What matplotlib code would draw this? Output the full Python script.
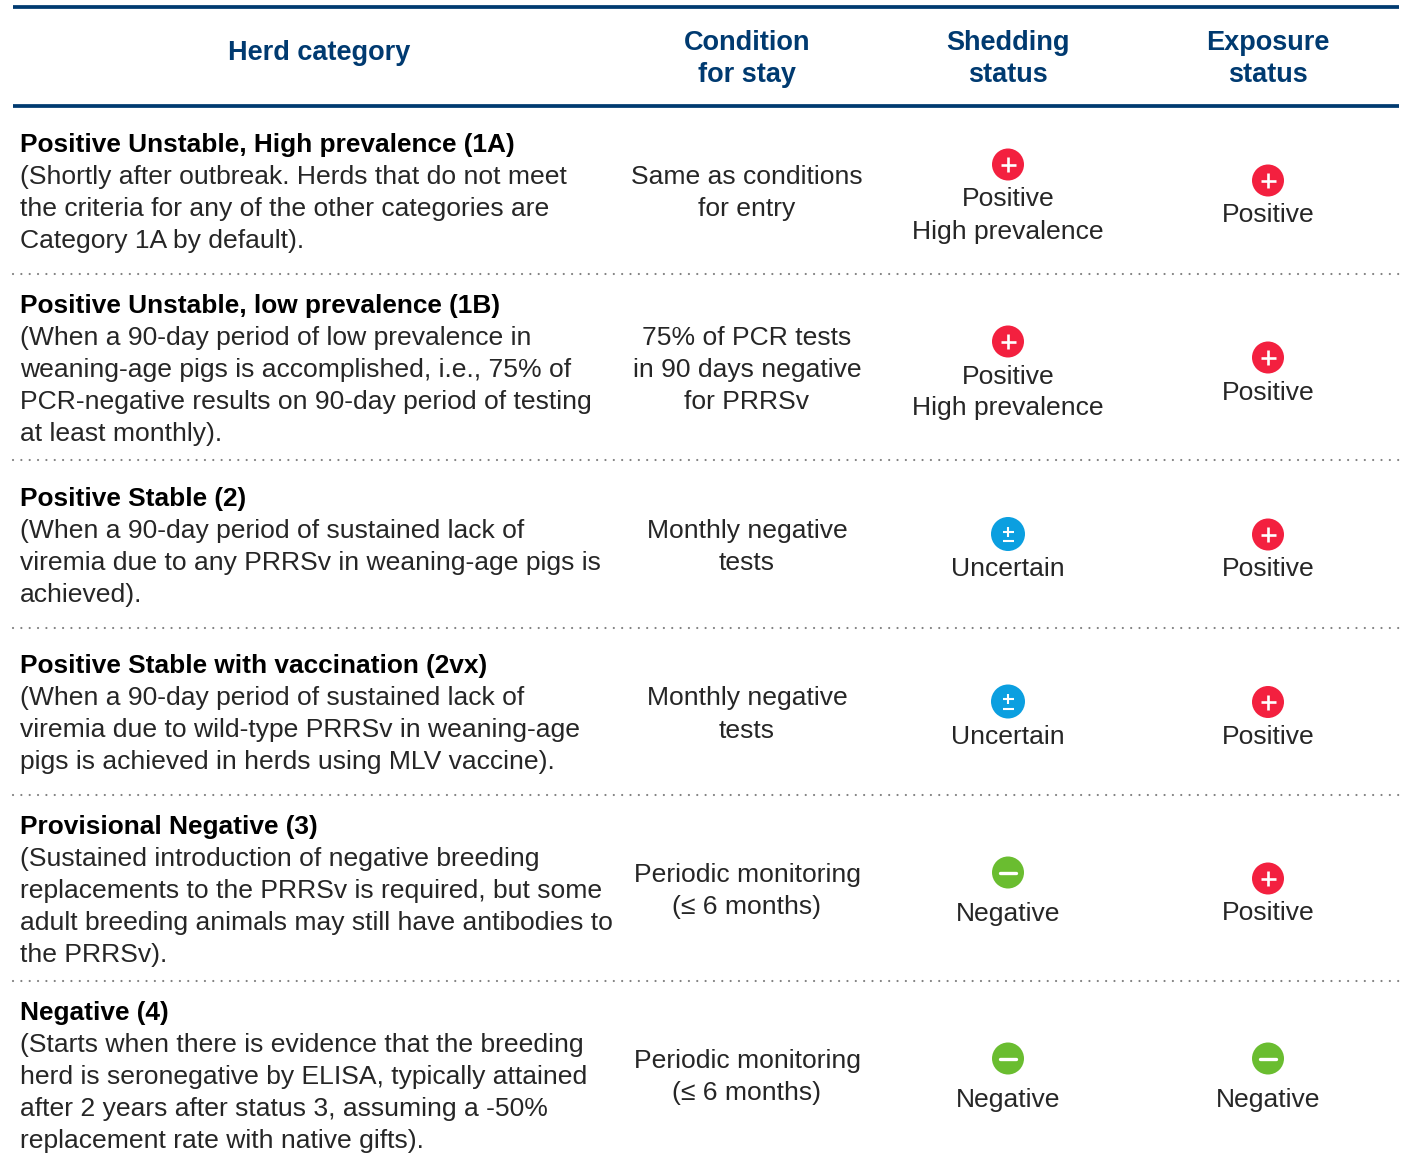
import matplotlib

matplotlib.use("Agg")
import matplotlib.pyplot as plt
from matplotlib.patches import Circle

plt.rcParams["font.family"] = ["Liberation Sans", "DejaVu Sans"]

HEADERS = ["Herd category", "Condition\nfor stay", "Shedding\nstatus", "Exposure\nstatus"]

CATEGORY_TITLES = [
    "Positive Unstable, High prevalence (1A)",
    "Positive Unstable, low prevalence (1B)",
    "Positive Stable (2)",
    "Positive Stable with vaccination (2vx)",
    "Provisional Negative (3)",
    "Negative (4)",
]
CATEGORY_NOTES = [
    "(Shortly after outbreak. Herds that do not meet\nthe criteria for any of the other categories are\nCategory 1A by default).",
    "(When a 90-day period of low prevalence in\nweaning-age pigs is accomplished, i.e., 75% of\nPCR-negative results on 90-day period of testing\nat least monthly).",
    "(When a 90-day period of sustained lack of\nviremia due to any PRRSv in weaning-age pigs is\nachieved).",
    "(When a 90-day period of sustained lack of\nviremia due to wild-type PRRSv in weaning-age\npigs is achieved in herds using MLV vaccine).",
    "(Sustained introduction of negative breeding\nreplacements to the PRRSv is required, but some\nadult breeding animals may still have antibodies to\nthe PRRSv).",
    "(Starts when there is evidence that the breeding\nherd is seronegative by ELISA, typically attained\nafter 2 years after status 3, assuming a -50%\nreplacement rate with native gifts).",
]
CONDITIONS = [
    "Same as conditions\nfor entry",
    "75% of PCR tests\nin 90 days negative\nfor PRRSv",
    "Monthly negative\ntests",
    "Monthly negative\ntests",
    "Periodic monitoring\n(≤ 6 months)",
    "Periodic monitoring\n(≤ 6 months)",
]
SHEDDING = [
    "Positive\nHigh prevalence",
    "Positive\nHigh prevalence",
    "Uncertain",
    "Uncertain",
    "Negative",
    "Negative",
]
EXPOSURE = ["Positive", "Positive", "Positive", "Positive", "Positive", "Negative"]

ROW_EDGES = [106, 274, 460, 628, 795, 981, 1167]

NAVY = "#003a70"
INK = "#262626"
ICON_COLORS = {"Positive": "#f3203f", "Uncertain": "#0b9fe0", "Negative": "#6abd30"}
ICON_GAP = {"Positive": 32, "Uncertain": 32.5, "Negative": 38}

HEAD_SIZE = 19.5
TITLE_SIZE = 18.9
BODY_SIZE = 19.05
LINE = 32
BASE = 10
COL_X = [319, 747, 1008, 1268]


def draw_lines(ax, x, first_y, text, size=BODY_SIZE, **kwargs):
    for i, part in enumerate(text.split("\n")):
        ax.text(x, first_y + i * LINE + BASE, part, va="baseline", fontsize=size, **kwargs)


def draw_icon(ax, x, y, state):
    radius = 17 if state == "Uncertain" else 16
    ax.add_patch(Circle((x, y), radius, color=ICON_COLORS[state], lw=0, zorder=3))
    if state == "Positive":
        ax.plot([x - 7.5, x + 7.5], [y, y], color="white", lw=1.9, solid_capstyle="butt", zorder=4)
        ax.plot([x, x], [y - 7.5, y + 7.5], color="white", lw=1.9, solid_capstyle="butt", zorder=4)
    elif state == "Negative":
        ax.plot([x - 8, x + 8], [y, y], color="white", lw=2.4, solid_capstyle="round", zorder=4)
    else:
        ax.plot([x - 5.5, x + 5.5], [y - 2.5, y - 2.5], color="white", lw=1.5, solid_capstyle="butt", zorder=4)
        ax.plot([x, x], [y - 7.5, y + 2.5], color="white", lw=1.5, solid_capstyle="butt", zorder=4)
        ax.plot([x - 5.5, x + 5.5], [y + 7, y + 7], color="white", lw=1.5, solid_capstyle="butt", zorder=4)


def draw_status(ax, x, center, text):
    lines = text.split("\n")
    # text sits a bit below the row centre, icon goes on top of it
    text_y = center + 6 + 33 / 2 - (len(lines) - 1) * LINE / 2
    draw_icon(ax, x, text_y - ICON_GAP[lines[0]], lines[0])
    draw_lines(ax, x, text_y, text, ha="center", color=INK)


fig = plt.figure(figsize=(14.04, 11.62), dpi=100)
ax = fig.add_axes([0, 0, 1, 1])
ax.set_xlim(0, 1404)
ax.set_ylim(1162, 0)
ax.axis("off")

for y in [6.5, 106]:
    ax.plot([13, 1399], [y, y], color=NAVY, lw=2.7, solid_capstyle="butt")

draw_lines(ax, COL_X[0], 50, HEADERS[0], size=HEAD_SIZE, ha="center", color=NAVY, fontweight="bold")
for x, header in zip(COL_X[1:], HEADERS[1:]):
    draw_lines(ax, x, 40.5, header, size=HEAD_SIZE, ha="center", color=NAVY, fontweight="bold")

for y in ROW_EDGES[1:-1]:
    ax.plot([13, 1400], [y, y], color="#808080", lw=1.6, linestyle=(0, (0.01, 3.745)), dash_capstyle="round")

for i in range(len(CATEGORY_TITLES)):
    center = (ROW_EDGES[i] + ROW_EDGES[i + 1]) / 2
    n_lines = CATEGORY_NOTES[i].count("\n") + 2
    first = center - (n_lines - 1) * LINE / 2
    draw_lines(ax, 20, first, CATEGORY_TITLES[i], size=TITLE_SIZE, ha="left", color="black", fontweight="bold")
    draw_lines(ax, 20, first + LINE, CATEGORY_NOTES[i], ha="left", color=INK)

    n_cond = CONDITIONS[i].count("\n") + 1
    draw_lines(ax, COL_X[1], center - (n_cond - 1) * LINE / 2, CONDITIONS[i], ha="center", color=INK)

    draw_status(ax, COL_X[2], center, SHEDDING[i])
    draw_status(ax, COL_X[3], center, EXPOSURE[i])

fig.savefig("out.png", dpi=100, facecolor="white")
plt.close(fig)
